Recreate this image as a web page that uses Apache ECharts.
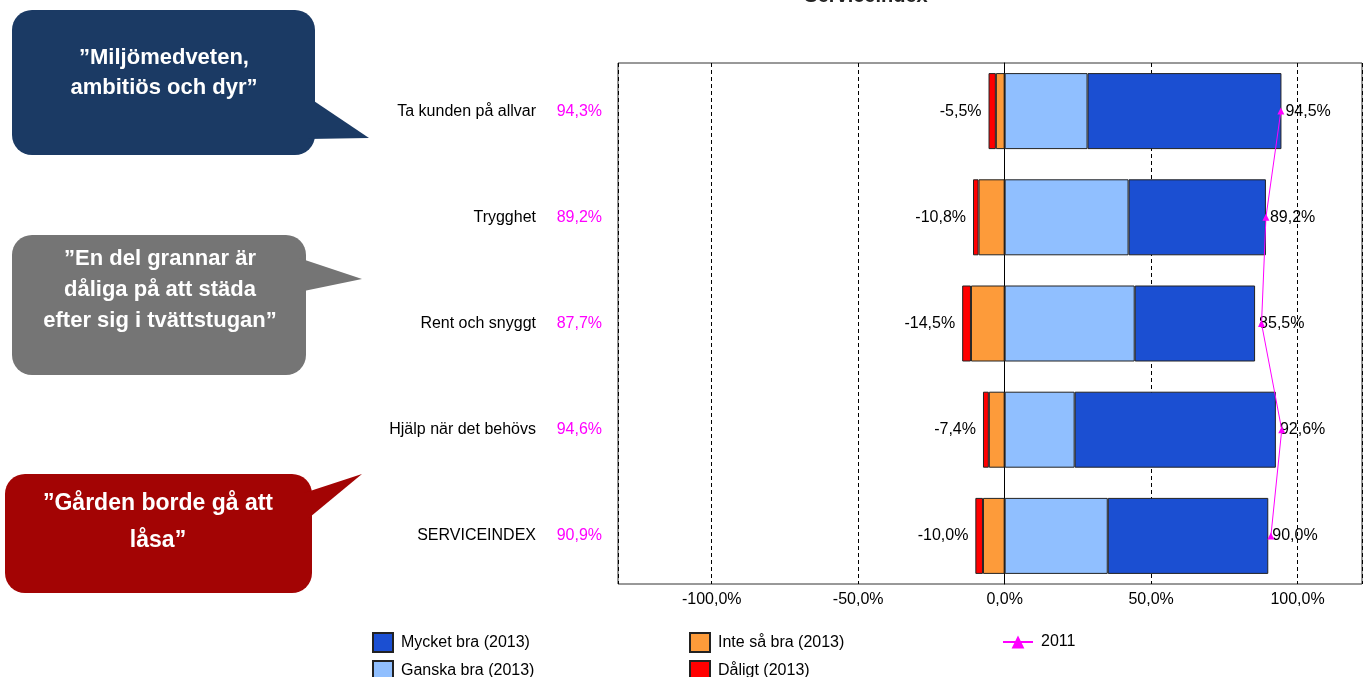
<!DOCTYPE html>
<html>
<head>
<meta charset="utf-8">
<script src="https://cdn.jsdelivr.net/npm/echarts@6/dist/echarts.min.js"></script>
<style>
html,body{margin:0;padding:0;background:#fff;}
#c{width:1366px;height:677px;}
</style>
</head>
<body>
<div id="c"></div>
<script>
const categories = ['Ta kunden på allvar', 'Trygghet', 'Rent och snyggt', 'Hjälp när det behövs', 'SERVICEINDEX'];
const mycketBra = [66.2, 46.9, 41.1, 68.7, 54.8];
const ganskaBra = [28.3, 42.3, 44.4, 23.9, 35.2];
const inteSaBra = [-3.0, -8.9, -11.5, -5.4, -7.4];
const daligt = [-2.5, -1.9, -3.0, -2.0, -2.6];
const values2011 = [94.3, 89.2, 87.7, 94.6, 90.9];
const xTicks = [-100, -50, 0, 50, 100];

const FONT = "'Liberation Sans', Arial, sans-serif";
function pct(v) { return v.toFixed(1).replace('.', ',') + '%'; }

const chart = echarts.init(document.getElementById('c'), null, {renderer: 'canvas'});

const borderStyle = {borderColor: '#222', borderWidth: 1};
const X_MIN = -132, X_MAX = 122;

const legendBase = {
  orient: 'vertical', top: 627, height: 70, itemWidth: 20, itemHeight: 19, itemGap: 7,
  icon: 'rect',
  textStyle: {fontFamily: FONT, fontSize: 16, color: '#000', padding: [0, 0, 0, 3]}
};

const option = {
  animation: false,
  backgroundColor: '#fff',
  title: {
    text: 'Serviceindex',
    left: 861, top: -19, textAlign: 'center',
    textStyle: {fontFamily: FONT, fontSize: 20, fontWeight: 'bold', color: '#222'}
  },
  grid: [
    {left: 618, right: 4, top: 63, bottom: 93, show: true, borderColor: '#333', borderWidth: 1, backgroundColor: 'transparent'},
    {left: 618, right: 4, top: 58, bottom: 88, show: false}
  ],
  legend: [
    Object.assign({}, legendBase, {left: 367, data: ['Mycket bra (2013)', 'Ganska bra (2013)']}),
    Object.assign({}, legendBase, {left: 684, data: ['Inte så bra (2013)', 'Dåligt (2013)']}),
    Object.assign({}, legendBase, {left: 997, top: 629, itemWidth: 30, itemHeight: 16, icon: null, data: ['2011']})
  ],
  xAxis: [
    {
      gridIndex: 0, type: 'value', min: X_MIN, max: X_MAX, splitNumber: 5,
      axisLine: {show: false},
      axisTick: {show: false},
      axisLabel: {
        fontFamily: FONT, fontSize: 16, color: '#000', margin: 8,
        showMinLabel: false, showMaxLabel: false,
        formatter: function (v) { return (xTicks.indexOf(v) >= 0) ? pct(v) : ''; }
      },
      splitLine: {show: true, lineStyle: {color: '#000', width: 1, type: [4, 3]}}
    },
    {
      gridIndex: 1, type: 'value', min: X_MIN, max: X_MAX, show: false,
      splitLine: {show: false}
    }
  ],
  yAxis: [
    {
      gridIndex: 0, type: 'value', min: 0, max: 1,
      axisLine: {show: true, onZero: true, lineStyle: {color: '#000', width: 1}},
      axisTick: {show: false}, axisLabel: {show: false}, splitLine: {show: false}
    },
    {
      gridIndex: 1, type: 'category', inverse: true, data: categories,
      axisLine: {show: false},
      axisTick: {show: false},
      splitLine: {show: false},
      axisLabel: {
        margin: 16,
        formatter: function (value, index) {
          return '{n|' + value + '}{v|' + pct(values2011[index]) + '}';
        },
        rich: {
          n: {fontFamily: FONT, fontSize: 16, color: '#000', align: 'right'},
          v: {fontFamily: FONT, fontSize: 16, color: '#ff00ff', align: 'right', width: 66}
        }
      }
    }
  ],
  series: [
    {
      name: 'Ganska bra (2013)', type: 'bar', stack: 'a', barWidth: 76,
      xAxisIndex: 1, yAxisIndex: 1,
      itemStyle: Object.assign({color: '#90bfff'}, borderStyle),
      data: ganskaBra
    },
    {
      name: 'Mycket bra (2013)', type: 'bar', stack: 'a',
      xAxisIndex: 1, yAxisIndex: 1,
      itemStyle: Object.assign({color: '#1b4fd2'}, borderStyle),
      label: {
        show: true, position: 'right', distance: 4,
        fontFamily: FONT, fontSize: 16, color: '#000',
        formatter: function (p) { return pct(mycketBra[p.dataIndex] + ganskaBra[p.dataIndex]); }
      },
      data: mycketBra
    },
    {
      name: 'Inte så bra (2013)', type: 'bar', stack: 'a',
      xAxisIndex: 1, yAxisIndex: 1,
      itemStyle: Object.assign({color: '#fd9b3a'}, borderStyle),
      data: inteSaBra
    },
    {
      name: 'Dåligt (2013)', type: 'bar', stack: 'a',
      xAxisIndex: 1, yAxisIndex: 1,
      itemStyle: Object.assign({color: '#ff0000'}, borderStyle),
      label: {
        show: true, position: 'left', distance: 7,
        fontFamily: FONT, fontSize: 16, color: '#000',
        formatter: function (p) { return pct(inteSaBra[p.dataIndex] + daligt[p.dataIndex]); }
      },
      data: daligt
    },
    {
      name: '2011', type: 'line', z: 10,
      xAxisIndex: 1, yAxisIndex: 1,
      symbol: 'triangle', symbolSize: 7,
      lineStyle: {color: '#ff00ff', width: 1},
      itemStyle: {color: '#ff00ff'},
      data: values2011
    }
  ],
  graphic: [
    {
      type: 'group', children: [
        {type: 'rect', shape: {x: 12, y: 10, width: 303, height: 145, r: 20}, style: {fill: '#1b3a64'}},
        {type: 'polygon', shape: {points: [[308, 97], [369, 138], [308, 139]]}, style: {fill: '#1b3a64'}},
        {type: 'text', style: {text: '”Miljömedveten,\nambitiös och dyr”', x: 164, y: 73, align: 'center', verticalAlign: 'middle', fill: '#fff', fontFamily: FONT, fontSize: 22, fontWeight: 'bold', lineHeight: 30}}
      ]
    },
    {
      type: 'group', children: [
        {type: 'rect', shape: {x: 12, y: 235, width: 294, height: 140, r: 20}, style: {fill: '#757575'}},
        {type: 'polygon', shape: {points: [[299, 258], [362, 279], [299, 292]]}, style: {fill: '#757575'}},
        {type: 'text', style: {text: '”En del grannar är\ndåliga på att städa\nefter sig i tvättstugan”', x: 160, y: 290, align: 'center', verticalAlign: 'middle', fill: '#fff', fontFamily: FONT, fontSize: 22, fontWeight: 'bold', lineHeight: 31}}
      ]
    },
    {
      type: 'group', children: [
        {type: 'rect', shape: {x: 5, y: 474, width: 307, height: 119, r: 20}, style: {fill: '#a30404'}},
        {type: 'polygon', shape: {points: [[304, 493], [362, 474], [304, 522]]}, style: {fill: '#a30404'}},
        {type: 'text', style: {text: '”Gården borde gå att\nlåsa”', x: 158, y: 522, align: 'center', verticalAlign: 'middle', fill: '#fff', fontFamily: FONT, fontSize: 23, fontWeight: 'bold', lineHeight: 37}}
      ]
    }
  ]
};

chart.setOption(option);
</script>
</body>
</html>
